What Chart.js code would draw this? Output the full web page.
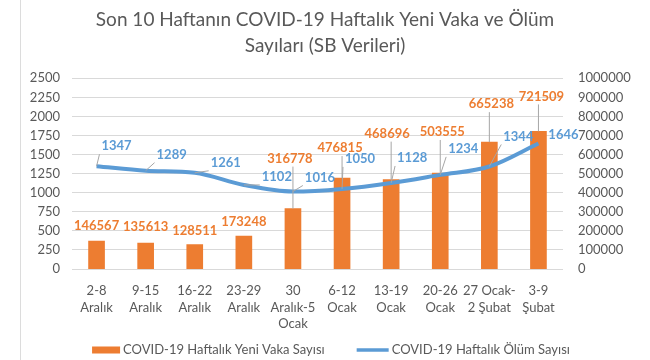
<!DOCTYPE html>
<html>
<head>
<meta charset="utf-8">
<script src="https://cdn.jsdelivr.net/npm/chart.js@4.4.1/dist/chart.umd.min.js"></script>
<style>
  html, body { margin: 0; padding: 0; background: #fff; }
  #wrap { position: relative; width: 650px; height: 360px; }
  #edge { position: absolute; left: 20px; top: 0; width: 1px; height: 360px; background: #dcdcdc; }
</style>
</head>
<body>
<div id="wrap">
  <canvas id="chart" width="650" height="360"></canvas>
  <div id="edge"></div>
</div>
<script>
// week ranges (x axis)
const weeks = [
  ['2-8', 'Aralık'], ['9-15', 'Aralık'], ['16-22', 'Aralık'], ['23-29', 'Aralık'],
  ['30', 'Aralık-5', 'Ocak'], ['6-12', 'Ocak'], ['13-19', 'Ocak'], ['20-26', 'Ocak'],
  ['27 Ocak-', '2 Şubat'], ['3-9', 'Şubat']
];
const newCases = [146567, 135613, 128511, 173248, 316778, 476815, 468696, 503555, 665238, 721509];
const deaths = [1347, 1289, 1261, 1102, 1016, 1050, 1128, 1234, 1344, 1646];

const deathAxisMax = 2500, deathAxisStep = 250;
const caseAxisMax = 1000000, caseAxisStep = 100000;

const seriesNames = ['COVID-19 Haftalık Yeni Vaka Sayısı', 'COVID-19 Haftalık Ölüm Sayısı'];

// label placement (px offset from bar top / line point), like the excel callouts
const caseLabelShift = [[0,-15],[0,-16],[0,-14],[0,-14],[-3,-50],[-2,-30],[-4,-46],[2,-41],[2,-38],[3,-35]];
const deathLabelShift = [[20,-20],[26,-16],[31,-10],[33,-8],[27,-14],[18,-30],[21,-25],[23,-26],[29,-30],[25,-9]];

const FONT = 'Lato, "Open Sans", sans-serif';
const ORANGE = '#ed7d31';
const BLUE = '#5b9bd5';
const GREY_TXT = '#595959';

Chart.defaults.font.family = FONT;
Chart.defaults.color = GREY_TXT;

function drawCallouts(chart, dsIndex, shifts, color) {
  const ctx = chart.ctx;
  const meta = chart.getDatasetMeta(dsIndex);
  const values = chart.data.datasets[dsIndex].data;
  ctx.save();
  ctx.font = 'bold 13px ' + FONT;
  ctx.textAlign = 'center';
  ctx.textBaseline = 'middle';
  meta.data.forEach(function(el, i) {
    const ax = el.x, ay = el.y;
    const lx = ax + shifts[i][0], ly = ay + shifts[i][1];
    const txt = String(values[i]);
    const w = ctx.measureText(txt).width;
    // leader line to nearest edge of label box
    const l = lx - w / 2 - 2, r = lx + w / 2 + 2, t = ly - 8, b = ly + 8;
    const ex = Math.min(Math.max(ax, l), r);
    const ey = Math.min(Math.max(ay, t), b);
    if (Math.hypot(ex - ax, ey - ay) > 10) {
      ctx.strokeStyle = '#a6a6a6';
      ctx.lineWidth = 1;
      ctx.beginPath();
      ctx.moveTo(ax, ay);
      ctx.lineTo(ex, ey);
      ctx.stroke();
    }
    ctx.fillStyle = color;
    ctx.fillText(txt, lx, ly);
  });
  ctx.restore();
}

const calloutPlugin = {
  id: 'callouts',
  afterDatasetsDraw(chart) {
    drawCallouts(chart, 0, caseLabelShift, ORANGE);
    drawCallouts(chart, 1, deathLabelShift, BLUE);
  }
};

// legend drawn by hand so the spacing matches the excel one
const bottomLegend = {
  id: 'bottomLegend',
  afterDraw(chart) {
    const ctx = chart.ctx;
    ctx.save();
    ctx.font = '13px ' + FONT;
    ctx.textBaseline = 'middle';
    ctx.textAlign = 'left';
    const y = 350;
    const keyW = [28, 32], gap = 32, txtGap = 3;
    const widths = seriesNames.map((s, i) => keyW[i] + txtGap + ctx.measureText(s).width);
    let x = chart.width / 2 + 6 - (widths[0] + widths[1] + gap) / 2;
    // bar key
    ctx.fillStyle = ORANGE;
    ctx.fillRect(x, y - 3.5, keyW[0], 7);
    ctx.fillStyle = GREY_TXT;
    ctx.fillText(seriesNames[0], x + keyW[0] + txtGap, y);
    x += widths[0] + gap;
    // line key
    ctx.strokeStyle = BLUE;
    ctx.lineWidth = 3.5;
    ctx.beginPath();
    ctx.moveTo(x, y);
    ctx.lineTo(x + keyW[1], y);
    ctx.stroke();
    ctx.fillText(seriesNames[1], x + keyW[1] + txtGap, y);
    ctx.restore();
  }
};

const plainNumber = v => String(v);

new Chart(document.getElementById('chart'), {
  data: {
    labels: weeks,
    datasets: [{
      type: 'bar',
      label: seriesNames[0],
      data: newCases,
      yAxisID: 'yCases',
      backgroundColor: ORANGE,
      barThickness: 16,
      order: 2
    }, {
      type: 'line',
      label: seriesNames[1],
      data: deaths,
      yAxisID: 'yDeaths',
      borderColor: BLUE,
      borderWidth: 4,
      pointRadius: 0,
      tension: 0.4,
      cubicInterpolationMode: 'monotone',
      fill: false,
      order: 1
    }]
  },
  options: {
    responsive: false,
    animation: false,
    layout: { padding: { left: 0, right: 0, top: 0, bottom: 30 } },
    plugins: {
      legend: { display: false },
      tooltip: { enabled: false },
      title: {
        display: true,
        text: ['Son 10 Haftanın COVID-19 Haftalık Yeni Vaka ve Ölüm', 'Sayıları (SB Verileri)'],
        color: GREY_TXT,
        font: { size: 19, weight: 'normal', lineHeight: 1.35 },
        padding: { top: 7, bottom: 20 }
      }
    },
    scales: {
      x: {
        grid: { display: false, drawTicks: false },
        border: { display: false },
        ticks: { color: GREY_TXT, font: { size: 13, lineHeight: 1.3 }, maxRotation: 0, autoSkip: false, padding: 13 },
        afterFit(s) { s.height = 61; }
      },
      yDeaths: {
        position: 'left',
        min: 0,
        max: deathAxisMax,
        ticks: { stepSize: deathAxisStep, color: GREY_TXT, font: { size: 13 }, padding: 12, callback: plainNumber },
        grid: { color: '#d9d9d9', drawTicks: false },
        border: { display: false },
        afterFit(s) { s.width = 72; }
      },
      yCases: {
        position: 'right',
        min: 0,
        max: caseAxisMax,
        ticks: { stepSize: caseAxisStep, color: GREY_TXT, font: { size: 13 }, padding: 15, callback: plainNumber },
        grid: { display: false, drawTicks: false },
        border: { display: false },
        afterFit(s) { s.width = 87; }
      }
    }
  },
  plugins: [calloutPlugin, bottomLegend]
});
</script>
</body>
</html>
